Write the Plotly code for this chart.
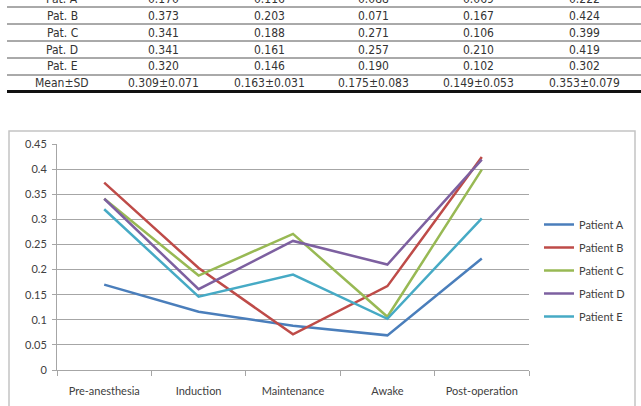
import plotly.graph_objects as go

W, H = 641, 406

# ---- data ----
categories = ["Pre-anesthesia", "Induction", "Maintenance", "Awake", "Post-operation"]
patients = ["Patient A", "Patient B", "Patient C", "Patient D", "Patient E"]
row_labels = ["Pat. A", "Pat. B", "Pat. C", "Pat. D", "Pat. E", "Mean±SD"]
patient_a = [0.170, 0.116, 0.088, 0.069, 0.222]
patient_b = [0.373, 0.203, 0.071, 0.167, 0.424]
patient_c = [0.341, 0.188, 0.271, 0.106, 0.399]
patient_d = [0.341, 0.161, 0.257, 0.210, 0.419]
patient_e = [0.320, 0.146, 0.190, 0.102, 0.302]
mean_sd = ["0.309±0.071", "0.163±0.031", "0.175±0.083", "0.149±0.053", "0.353±0.079"]
y_ticks = [0, 0.05, 0.1, 0.15, 0.2, 0.25, 0.3, 0.35, 0.4, 0.45]

series = [patient_a, patient_b, patient_c, patient_d, patient_e]
colors = ["#4A7EBB", "#BE4B48", "#98B954", "#7D60A0", "#46AAC5"]

def px(x):
    return x / W

def py(y):
    return 1 - y / H

fig = go.Figure()
for name, vals, col in zip(patients, series, colors):
    fig.add_trace(go.Scatter(x=categories, y=vals, mode="lines", name=name,
                             legendgroup=name,
                             line=dict(color=col, width=2.5)))

chart_font = dict(family="Lato, Open Sans, sans-serif", size=11, color="#404040")
grid = "#A6A6A6"

fig.update_layout(
    width=W, height=H,
    margin=dict(l=0, r=0, t=0, b=0, autoexpand=False),
    paper_bgcolor="white", plot_bgcolor="white",
    showlegend=True,
    legend=dict(x=px(539), y=py(210), xanchor="left", yanchor="top",
                font=chart_font, tracegroupgap=4, itemwidth=30,
                bgcolor="rgba(0,0,0,0)"),
    xaxis=dict(domain=[px(57), px(529)], type="category", tickson="boundaries",
               ticks="outside", ticklen=5, tickcolor=grid, showline=True,
               linecolor=grid, linewidth=1, showgrid=False, automargin=False,
               range=[-0.5, 4.5], tickfont=chart_font, ticklabelstandoff=11),
    yaxis=dict(domain=[py(370), py(144)],
               range=[0, 0.45], tickvals=y_ticks, showgrid=True, gridcolor=grid,
               gridwidth=1, ticks="outside", ticklen=4, tickcolor=grid,
               showline=True, linecolor=grid, linewidth=1, zeroline=False,
               automargin=False, tickfont=chart_font, ticklabelstandoff=3),
)

shapes = []
# chart border
shapes.append(dict(type="rect", xref="paper", yref="paper",
                   x0=px(9), x1=px(635), y0=py(415), y1=py(131),
                   line=dict(color="#C4C4C4", width=1.5), layer="below"))

# table lines
for yl in [7, 24, 41, 58, 75]:
    shapes.append(dict(type="line", xref="paper", yref="paper",
                       x0=px(7), x1=1, y0=py(yl), y1=py(yl),
                       line=dict(color="#555555", width=1)))
shapes.append(dict(type="line", xref="paper", yref="paper",
                   x0=px(7), x1=1, y0=py(91.5), y1=py(91.5),
                   line=dict(color="#111111", width=3)))
fig.update_layout(shapes=shapes)

# table text
table_font = dict(family="Liberation Sans Narrow, DejaVu Sans Condensed, sans-serif",
                  size=12, color="#333333")
col_x = [62, 163, 269, 373, 478, 584]
row_y = [-1, 15.5, 32.5, 49.5, 66.5, 83]
annots = []
for i, lab in enumerate(row_labels):
    if i < 5:
        cells = [f"{series[i][j]:.3f}" for j in range(5)]
    else:
        cells = mean_sd
    row = [lab] + cells
    for c, txt in enumerate(row):
        annots.append(dict(x=px(col_x[c]), y=py(row_y[i]), xref="paper", yref="paper",
                           text=txt, showarrow=False, xanchor="center",
                           yanchor="middle", font=table_font))
fig.update_layout(annotations=annots)

fig.write_html("out.html")
